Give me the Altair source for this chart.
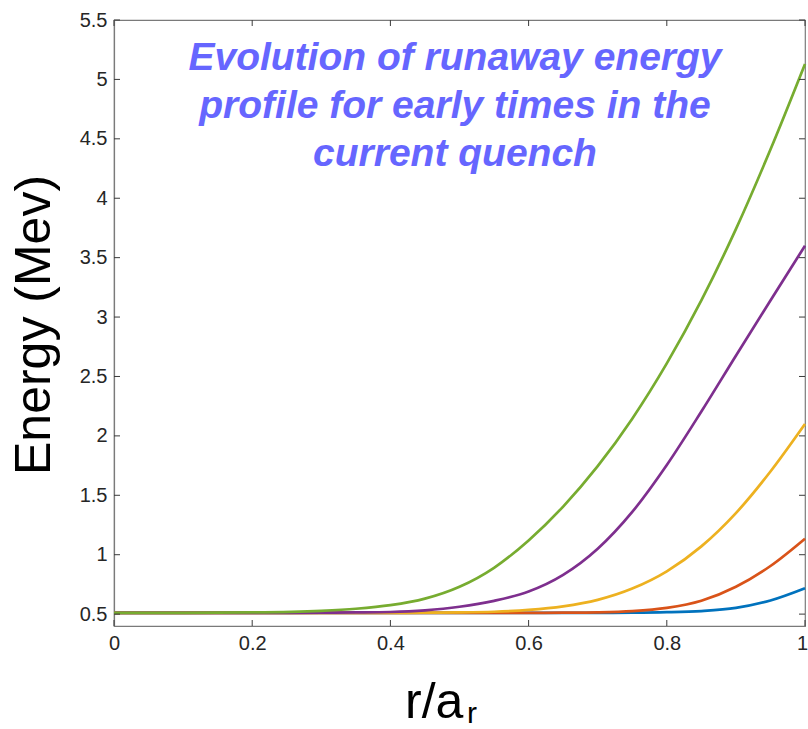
import altair as alt
import pandas as pd

# Normalised minor radius r/a_r, shared by every profile
r_vals = [0.0, 0.1, 0.2, 0.3, 0.35, 0.4, 0.45, 0.5, 0.55, 0.6, 0.65, 0.7, 0.75, 0.8, 0.85, 0.9, 0.95, 1.0]

# Runaway energy (MeV) at successive early times of the current quench
energy_t1 = [0.511, 0.511, 0.511, 0.511, 0.511, 0.511, 0.511, 0.511, 0.511, 0.511, 0.511, 0.511, 0.512, 0.516, 0.526, 0.552, 0.615, 0.718]
energy_t2 = [0.511, 0.511, 0.511, 0.511, 0.511, 0.511, 0.511, 0.511, 0.511, 0.511, 0.512, 0.515, 0.525, 0.552, 0.612, 0.730, 0.905, 1.135]
energy_t3 = [0.511, 0.511, 0.511, 0.511, 0.511, 0.511, 0.512, 0.514, 0.520, 0.535, 0.565, 0.620, 0.715, 0.860, 1.070, 1.350, 1.700, 2.100]
energy_t4 = [0.511, 0.511, 0.511, 0.512, 0.514, 0.518, 0.532, 0.562, 0.612, 0.690, 0.830, 1.050, 1.360, 1.755, 2.205, 2.675, 3.140, 3.600]
energy_t5 = [0.511, 0.511, 0.514, 0.528, 0.545, 0.575, 0.630, 0.730, 0.890, 1.120, 1.405, 1.745, 2.145, 2.610, 3.140, 3.740, 4.410, 5.130]

series_names = ["t1", "t2", "t3", "t4", "t5"]
series_colors = ["#0072BD", "#D95319", "#EDB120", "#7E2F8E", "#77AC30"]
series_values = [energy_t1, energy_t2, energy_t3, energy_t4, energy_t5]

x_ticks = [0, 0.2, 0.4, 0.6, 0.8, 1]
y_ticks = [0.5, 1, 1.5, 2, 2.5, 3, 3.5, 4, 4.5, 5, 5.5]

title_lines = [
    "Evolution of runaway energy",
    "profile for early times in the",
    "current quench",
]

rows = []
for name, vals in zip(series_names, series_values):
    for r, e in zip(r_vals, vals):
        rows.append({"r": r, "energy": e, "series": name})
df = pd.DataFrame(rows)
xt = pd.DataFrame({"t": x_ticks})
yt = pd.DataFrame({"t": y_ticks})
one = pd.DataFrame({"k": [0]})

W, H = 691, 606
TICK = 6
FONT = "Liberation Sans"
AXIS_GRAY = "#7a7a7a"
TICK_GRAY = "#3a3a3a"

xs = alt.Scale(domain=[0, 1], nice=False, zero=False)
ys = alt.Scale(domain=[0.4, 5.5], nice=False, zero=False)

label_style = dict(
    labelFont=FONT, labelFontSize=20, labelColor="#262626",
    labelFlush=False, labelOverlap=False, format="~g",
    grid=False, ticks=False, domainColor=AXIS_GRAY, domainWidth=1.2,
    labelPadding=7, title=None,
)

# Profiles, with the labelled bottom and left axes
lines = alt.Chart(df).mark_line(strokeWidth=2.7, interpolate="monotone").encode(
    x=alt.X("r:Q", scale=xs,
            axis=alt.Axis(orient="bottom", values=x_ticks,
                          labelOffset=alt.condition("datum.value == 1", alt.value(-3), alt.value(0)),
                          **label_style)),
    y=alt.Y("energy:Q", scale=ys,
            axis=alt.Axis(orient="left", values=y_ticks, **label_style)),
    color=alt.Color("series:N", scale=alt.Scale(domain=series_names, range=series_colors), legend=None),
    order=alt.Order("series:N"),
)

# Inward tick marks on all four sides of the box
tick_rule = dict(color=TICK_GRAY, strokeWidth=1)
ticks_bottom = alt.Chart(xt).mark_rule(**tick_rule).encode(
    x=alt.X("t:Q", scale=xs, axis=None), y=alt.value(H), y2=alt.value(H - TICK))
ticks_top = alt.Chart(xt).mark_rule(**tick_rule).encode(
    x=alt.X("t:Q", scale=xs, axis=None), y=alt.value(0), y2=alt.value(TICK))
ticks_left = alt.Chart(yt).mark_rule(**tick_rule).encode(
    y=alt.Y("t:Q", scale=ys, axis=None), x=alt.value(0), x2=alt.value(TICK))
ticks_right = alt.Chart(yt).mark_rule(**tick_rule).encode(
    y=alt.Y("t:Q", scale=ys, axis=None), x=alt.value(W), x2=alt.value(W - TICK))

headline = alt.Chart(one).mark_text(
    font=FONT, fontSize=39, fontWeight="bold", fontStyle="italic",
    color="#6666FF", align="center", baseline="alphabetic", lineHeight=48,
).encode(x=alt.value(341), y=alt.value(50), text=alt.value(title_lines))

y_title = alt.Chart(one).mark_text(
    font=FONT, fontSize=50, color="black", align="center", baseline="alphabetic", angle=270,
).encode(x=alt.value(-64), y=alt.value(305), text=alt.value("Energy (Mev)"))

x_title = alt.Chart(one).mark_text(
    font=FONT, fontSize=50, color="black", align="left", baseline="alphabetic",
).encode(x=alt.value(291), y=alt.value(698), text=alt.value("r/a"))

x_title_sub = alt.Chart(one).mark_text(
    font=FONT, fontSize=30, color="black", align="left", baseline="alphabetic",
).encode(x=alt.value(353), y=alt.value(703), text=alt.value("r"))

chart = alt.layer(
    lines, ticks_bottom, ticks_top, ticks_left, ticks_right,
    headline, y_title, x_title, x_title_sub,
).resolve_axis(
    x="independent", y="independent"
).properties(
    width=W, height=H,
    autosize=alt.AutoSizeParams(type="none"),
    padding={"left": 114, "top": 20, "right": 3, "bottom": 103},
).configure_view(stroke=AXIS_GRAY, strokeWidth=1.2)

chart.save("out.html", embed_options={"renderer": "svg", "actions": False})
